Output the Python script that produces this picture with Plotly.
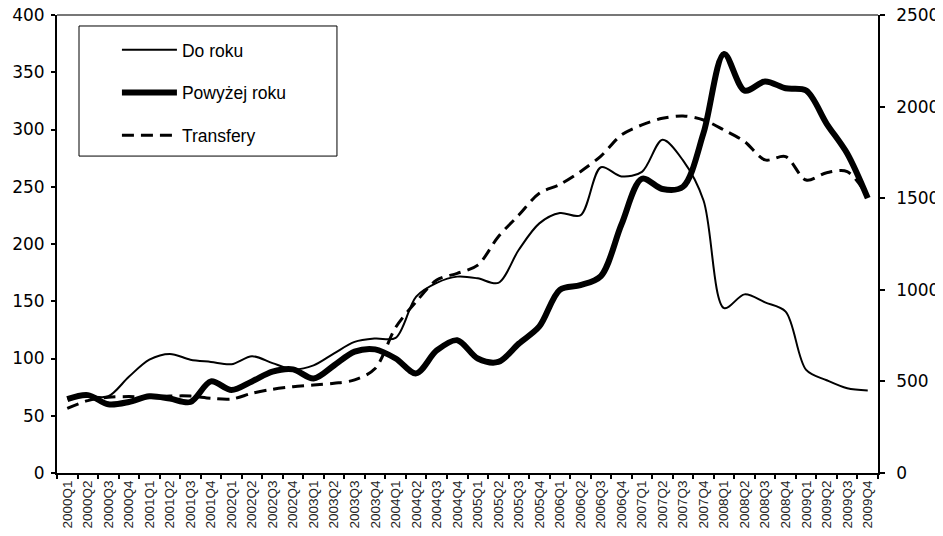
import plotly.graph_objects as go

quarters = [
    "2000Q1", "2000Q2", "2000Q3", "2000Q4", "2001Q1", "2001Q2", "2001Q3", "2001Q4",
    "2002Q1", "2002Q2", "2002Q3", "2002Q4", "2003Q1", "2003Q2", "2003Q3", "2003Q4",
    "2004Q1", "2004Q2", "2004Q3", "2004Q4", "2005Q1", "2005Q2", "2005Q3", "2005Q4",
    "2006Q1", "2006Q2", "2006Q3", "2006Q4", "2007Q1", "2007Q2", "2007Q3", "2007Q4",
    "2008Q1", "2008Q2", "2008Q3", "2008Q4", "2009Q1", "2009Q2", "2009Q3", "2009Q4",
]

do_roku = [65, 67, 67, 84, 99, 104, 99, 97, 95, 102, 96, 90.5, 94, 104.5, 114.5, 117.5,
           118, 154, 166, 171.5, 170, 166, 195, 218, 227, 225, 267, 259, 263, 291, 273, 238,
           144, 156, 149, 141, 90, 81, 74, 72]

powyzej_roku = [64.5, 68, 60, 62, 67, 65, 62, 80, 72.5, 80, 88.5, 90.5, 82.5, 94, 106, 108,
                100, 87, 107, 116, 100, 97, 113, 128, 160, 164, 172, 217, 257, 248, 250, 297,
                366, 334, 342, 336, 334, 305, 279, 240]

transfery = [353, 395, 413, 417, 414, 420, 420, 408, 404, 435, 457, 471, 480, 490, 508, 570,
             795, 935, 1053, 1090, 1135, 1290, 1408, 1527, 1575, 1645, 1730, 1845, 1900, 1936, 1949, 1927,
             1872, 1809, 1709, 1727, 1599, 1639, 1645, 1508]

left_ticks = [0, 50, 100, 150, 200, 250, 300, 350, 400]
right_ticks = [0, 500, 1000, 1500, 2000, 2500]

fig = go.Figure()
fig.add_trace(go.Scatter(x=quarters, y=do_roku, name="Do roku", mode="lines",
                         line=dict(color="black", width=2, shape="spline", smoothing=0.9),
                         legendgroup="a"))
fig.add_trace(go.Scatter(x=quarters, y=powyzej_roku, name="Powyżej roku", mode="lines",
                         line=dict(color="black", width=6, shape="spline", smoothing=0.9),
                         legendgroup="b"))
fig.add_trace(go.Scatter(x=quarters, y=transfery, name="Transfery", mode="lines", yaxis="y2",
                         line=dict(color="black", width=3, dash="12px,7px", shape="spline", smoothing=0.9),
                         legendgroup="c"))

n = len(quarters)
tickfont_y = dict(family="DejaVu Sans", size=17, color="black")

fig.update_layout(
    template="none",
    width=935, height=528,
    margin=dict(l=49, r=65, t=7, b=63, pad=0),
    paper_bgcolor="white", plot_bgcolor="white",
    showlegend=True,
    legend=dict(x=0.073, y=0.963, xanchor="left", yanchor="top",
                font=dict(family="Liberation Sans", size=17.5, color="black"),
                bgcolor="rgba(0,0,0,0)", borderwidth=0, itemwidth=55,
                traceorder="grouped", tracegroupgap=17),
    xaxis=dict(type="category", categoryorder="array", categoryarray=quarters,
               range=[-0.5, n - 0.5], tickson="boundaries", ticks="outside", ticklen=4,
               tickwidth=1.5, tickcolor="black", showline=True, linecolor="black", linewidth=2,
               showgrid=False, zeroline=False, tickangle=-90,
               tickfont=dict(family="Liberation Sans", size=13.5, color="#222"),
               automargin=False, fixedrange=True, ticklabeloverflow="allow"),
    xaxis3=dict(overlaying="x", anchor="y", side="bottom", type="linear",
                range=[-0.5, n - 0.5], tickmode="linear", tick0=-0.5, dtick=1,
                ticks="inside", ticklen=5, tickwidth=1.5, tickcolor="black",
                showticklabels=False, showline=False, showgrid=False, zeroline=False,
                automargin=False),
    yaxis=dict(range=[0, 400], tickvals=left_ticks, ticks="outside", ticklen=4, tickwidth=1.5,
               tickcolor="black", showline=True, linecolor="black", linewidth=2,
               showgrid=False, zeroline=False, tickfont=tickfont_y, automargin=False,
               ticklabelstandoff=3, ticklabeloverflow="allow"),
    yaxis3=dict(overlaying="y", anchor="x", side="left", range=[0, 400], tickvals=left_ticks,
                ticks="inside", ticklen=5, tickwidth=1.5, tickcolor="black",
                showticklabels=False, showline=False, showgrid=False, zeroline=False,
                automargin=False),
    yaxis2=dict(overlaying="y", anchor="x", side="right", range=[0, 2500], tickvals=right_ticks,
                ticks="outside", ticklen=5, tickwidth=1.5, tickcolor="black",
                showline=True, linecolor="black", linewidth=1.5,
                showgrid=False, zeroline=False, tickfont=tickfont_y, automargin=False,
                ticklabelstandoff=8, ticklabeloverflow="allow"),
    yaxis4=dict(overlaying="y", anchor="x", side="right", range=[0, 2500], tickvals=right_ticks,
                ticks="inside", ticklen=5, tickwidth=1.5, tickcolor="black",
                showticklabels=False, showline=False, showgrid=False, zeroline=False,
                automargin=False),
    shapes=[
        dict(type="line", xref="paper", yref="paper", x0=0, x1=1, y0=1, y1=1,
             line=dict(color="#777777", width=2), layer="below"),
        dict(type="rect", xref="paper", yref="paper", x0=0.0268, x1=0.341, y0=0.692, y1=0.976,
             line=dict(color="black", width=1), fillcolor="rgba(0,0,0,0)", layer="above"),
    ],
)

fig.write_html("out.html")
